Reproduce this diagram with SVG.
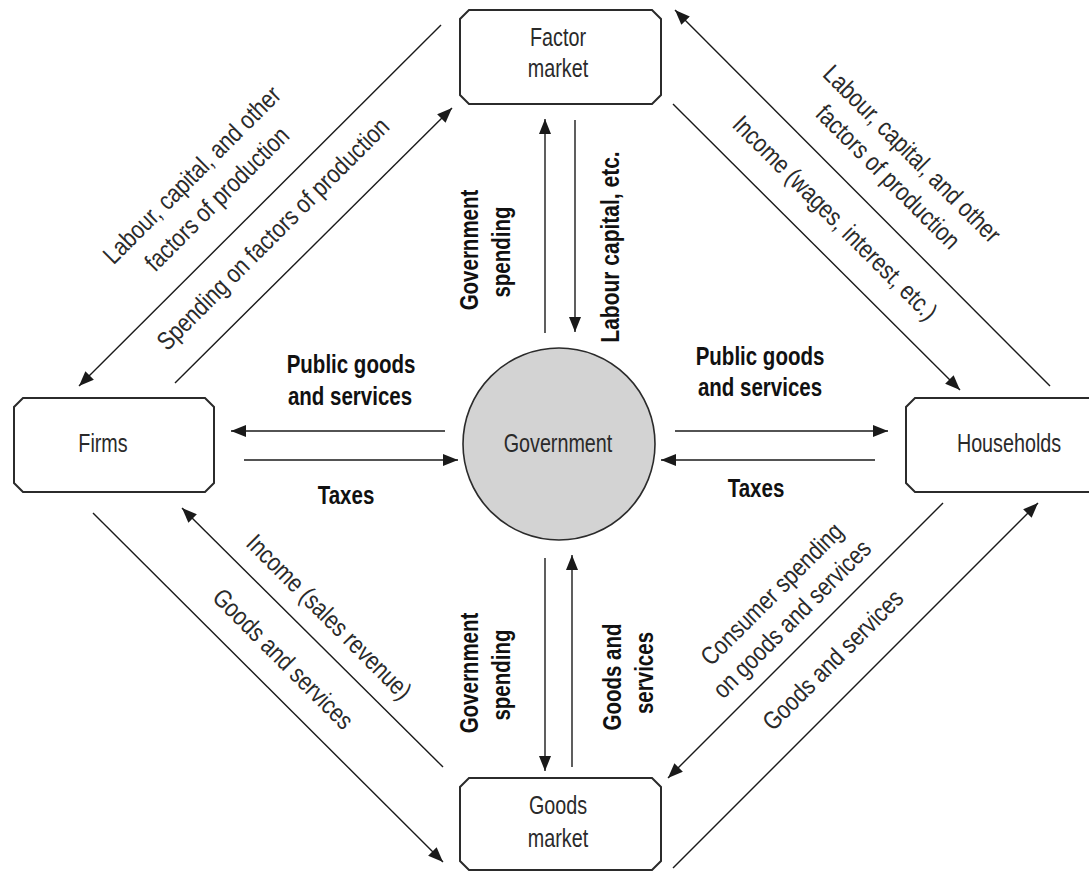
<svg xmlns="http://www.w3.org/2000/svg" width="1089" height="871" viewBox="0 0 1089 871">
<style>
.box{fill:#fff;stroke:#2b2b2b;stroke-width:2}
.gov{fill:#d3d3d3;stroke:#2b2b2b;stroke-width:1.6}
.ln{fill:none;stroke:#1a1a1a;stroke-width:1.4;marker-end:url(#ah)}
text{font-family:"Liberation Sans",Arial,sans-serif;text-anchor:middle}
.r{font-size:25px;fill:#2a2a2a}
.d{font-size:25.5px;fill:#2a2a2a}
.b{font-size:25px;font-weight:bold;fill:#111}
</style>
<defs>
<marker id="ah" markerUnits="userSpaceOnUse" markerWidth="16" markerHeight="12" refX="15" refY="6" orient="auto">
<path d="M0,0 L15,6 L0,12 z" fill="#1a1a1a"/>
</marker>
</defs>
<rect width="1089" height="871" fill="#fff"/>

<g id="connectors">
<line class="ln" x1="445" y1="431" x2="231" y2="431"/>
<line class="ln" x1="244" y1="460" x2="458" y2="460"/>
<line class="ln" x1="675" y1="431" x2="888" y2="431"/>
<line class="ln" x1="875" y1="460" x2="661" y2="460"/>
<line class="ln" x1="545" y1="333" x2="545" y2="119"/>
<line class="ln" x1="575" y1="120" x2="575" y2="332"/>
<line class="ln" x1="545" y1="558" x2="545" y2="771"/>
<line class="ln" x1="572" y1="767" x2="572" y2="555"/>
<line class="ln" x1="441" y1="25" x2="79" y2="386"/>
<line class="ln" x1="175" y1="383" x2="452" y2="108"/>
<line class="ln" x1="1050" y1="386" x2="675" y2="10"/>
<line class="ln" x1="673" y1="104" x2="960" y2="390"/>
<line class="ln" x1="443" y1="767" x2="182" y2="508"/>
<line class="ln" x1="93" y1="513" x2="443" y2="862"/>
<line class="ln" x1="943" y1="503" x2="668" y2="778"/>
<line class="ln" x1="673" y1="868" x2="1038" y2="503"/>
</g>

<g id="labels">
<text class="b" transform="translate(351,373) scale(0.82,1)">Public goods</text>
<text class="b" transform="translate(350,405) scale(0.82,1)">and services</text>
<text class="b" transform="translate(346,504) scale(0.82,1)">Taxes</text>
<text class="b" transform="translate(760,365) scale(0.82,1)">Public goods</text>
<text class="b" transform="translate(760,396) scale(0.82,1)">and services</text>
<text class="b" transform="translate(756,497) scale(0.82,1)">Taxes</text>
<text class="b" transform="translate(478,250) rotate(-90) scale(0.82,1)">Government</text>
<text class="b" transform="translate(510,252) rotate(-90) scale(0.82,1)">spending</text>
<text class="b" transform="translate(619,247) rotate(-90) scale(0.84,1)">Labour capital, etc.</text>
<text class="b" transform="translate(478,673) rotate(-90) scale(0.82,1)">Government</text>
<text class="b" transform="translate(510,675) rotate(-90) scale(0.82,1)">spending</text>
<text class="b" transform="translate(621,677) rotate(-90) scale(0.82,1)">Goods and</text>
<text class="b" transform="translate(653,673) rotate(-90) scale(0.82,1)">services</text>
<text class="d" transform="translate(198,181) rotate(-45) scale(0.83,1)">Labour, capital, and other</text>
<text class="d" transform="translate(223,205) rotate(-45) scale(0.83,1)">factors of production</text>
<text class="d" transform="translate(279,240) rotate(-45) scale(0.83,1)">Spending on factors of production</text>
<text class="d" transform="translate(906,160) rotate(45) scale(0.83,1)">Labour, capital, and other</text>
<text class="d" transform="translate(882,183) rotate(45) scale(0.83,1)">factors of production</text>
<text class="d" transform="translate(829,224) rotate(45) scale(0.83,1)">Income (wages, interest, etc.)</text>
<text class="d" transform="translate(323,623) rotate(45) scale(0.83,1)">Income (sales revenue)</text>
<text class="d" transform="translate(277,665) rotate(45) scale(0.83,1)">Goods and services</text>
<text class="d" transform="translate(778,600) rotate(-45) scale(0.83,1)">Consumer spending</text>
<text class="d" transform="translate(798,625) rotate(-45) scale(0.83,1)">on goods and services</text>
<text class="d" transform="translate(839,666) rotate(-45) scale(0.83,1)">Goods and services</text>
</g>

<g id="factor-market">
<path class="box" d="M469,10 H652 L661,19 V95 L652,104 H469 L460,95 V19 Z"/>
<text class="r" transform="translate(558,46) scale(0.79,1)">Factor</text>
<text class="r" transform="translate(558,77) scale(0.79,1)">market</text>
</g>

<g id="firms">
<path class="box" d="M23,398 H205 L214,407 V483 L205,492 H23 L14,483 V407 Z"/>
<text class="r" transform="translate(103,452) scale(0.79,1)">Firms</text>
</g>

<g id="households">
<path class="box" d="M915,398 H1091 L1100,407 V483 L1091,492 H915 L906,483 V407 Z"/>
<text class="r" transform="translate(1009,452) scale(0.79,1)">Households</text>
</g>

<g id="goods-market">
<path class="box" d="M469,778 H652 L661,787 V861 L652,870 H469 L460,861 V787 Z"/>
<text class="r" transform="translate(558,814) scale(0.79,1)">Goods</text>
<text class="r" transform="translate(558,847) scale(0.79,1)">market</text>
</g>

<g id="government">
<circle class="gov" cx="559" cy="444" r="96"/>
<text class="r" transform="translate(558,452) scale(0.79,1)">Government</text>
</g>
</svg>
